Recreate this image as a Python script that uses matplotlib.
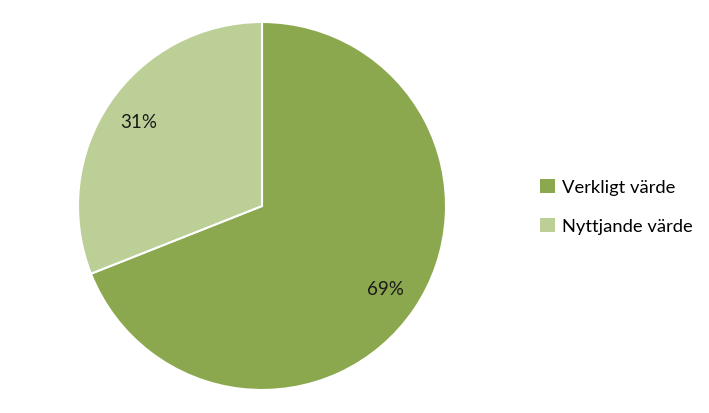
import matplotlib
matplotlib.use("Agg")
import matplotlib.pyplot as plt

labels = ["Verkligt värde", "Nyttjande värde"]
values = [69, 31]
colors = ["#8BA84E", "#BBCF97"]

plt.rcParams['font.family'] = ['Lato', 'DejaVu Sans']

W, H = 709, 413
fig = plt.figure(figsize=(W/100, H/100), dpi=100)
cx, cy, r = 262, 206, 184
ax = fig.add_axes([(cx - r)/W, (H - cy - r)/H, 2*r/W, 2*r/H])
wedges, texts, autotexts = ax.pie(values, colors=colors, startangle=90, counterclock=False,
                                  autopct='%1.0f%%', pctdistance=0.81,
                                  wedgeprops=dict(edgecolor='white', linewidth=1.5),
                                  textprops=dict(fontsize=13.5, color='#1a1a1a'))
ax.set_xlim(-1.0, 1.0)
ax.set_ylim(-1.0, 1.0)
ax.set_aspect('equal')
ax.axis('off')

leg = fig.legend(wedges, labels, loc='center left', bbox_to_anchor=(533/W, 1 - 207/H),
                 frameon=False, fontsize=13.2, handlelength=0.8, handleheight=0.8,
                 handletextpad=0.4, labelspacing=1.25, borderaxespad=0)
for h in leg.legend_handles:
    h.set_edgecolor('none')

fig.savefig("out.png", dpi=100)
